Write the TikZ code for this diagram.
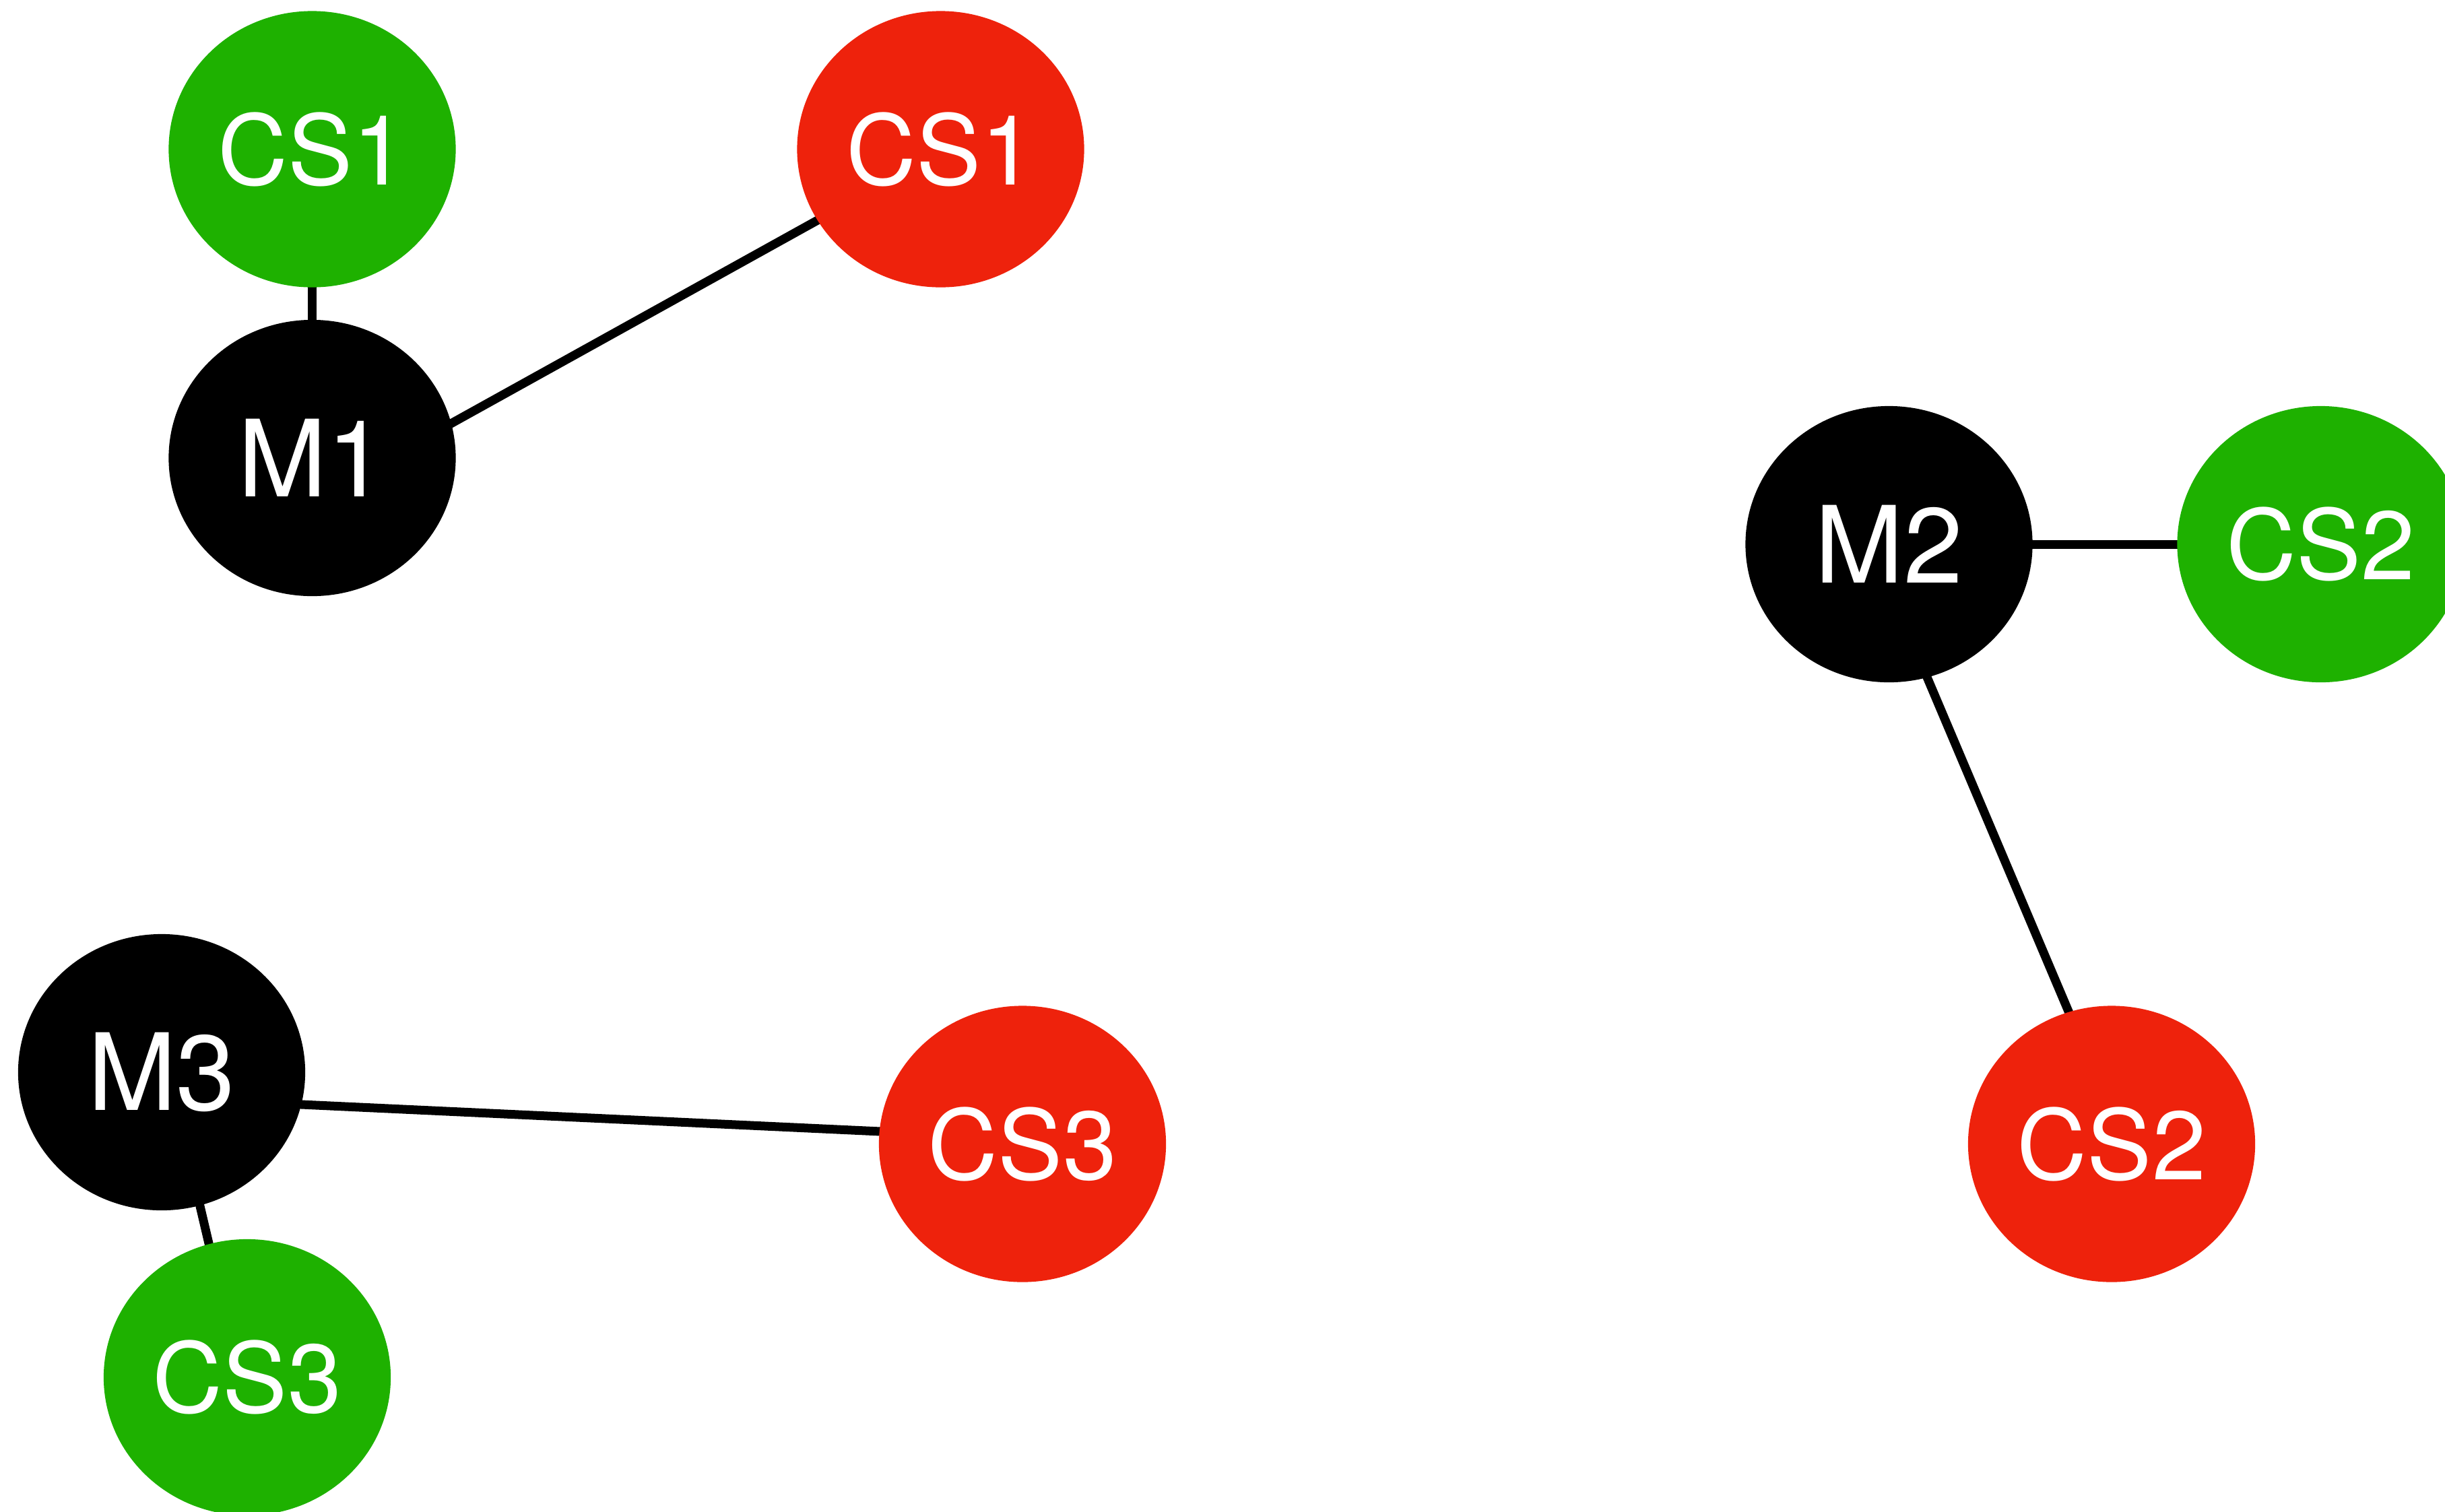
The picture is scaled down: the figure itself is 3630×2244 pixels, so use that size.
\documentclass[tikz,border=0pt]{standalone}
\usepackage{fontspec}
\setmainfont{TeX Gyre Heros}
\usetikzlibrary{shapes.geometric,backgrounds}
\definecolor{kgreen}{HTML}{1EB100}
\definecolor{kred}{HTML}{EE220C}
\begin{document}
\begin{tikzpicture}[x=0.01cm,y=-0.01cm,
  ball/.style={ellipse, minimum width=4.26cm, minimum height=4.10cm, inner sep=0pt, text=white},
  csball/.style={ball, font=\fontsize{41}{41}\selectfont},
  mball/.style={ball, fill=black, font=\fontsize{45}{45}\selectfont},
  greenball/.style={csball, fill=kgreen},
  redball/.style={csball, fill=kred},
  link/.style={line width=0.13cm, black, shorten <=-0.12cm, shorten >=-0.12cm}]
\useasboundingbox (0,0) rectangle (3630,2244);
\clip (0,0) rectangle (3630,2244);
\node[greenball] (cs1g) at (463.5,221.5) {CS1};
\node[redball]   (cs1r) at (1396.5,221.5) {CS1};
\node[mball]     (m1)   at (463.5,680) {M1};
\node[mball]     (m2)   at (2804.5,808) {M2};
\node[greenball] (cs2g) at (3445.5,808) {CS2};
\node[mball]     (m3)   at (240,1592) {M3};
\node[redball]   (cs3r) at (1518,1698.5) {CS3};
\node[redball]   (cs2r) at (3135,1698.5) {CS2};
\node[greenball] (cs3g) at (367,2045) {CS3};
\begin{pgfonlayer}{background}
\draw[link] (cs1g.south) -- (m1.north);
\draw[link] (m1.14.3) -- (cs1r.210.4);
\draw[link] (m2.east) -- (cs2g.west);
\draw[link] (m2.286.4) -- (cs2r.108.3);
\draw[link] (m3.347.5) -- (cs3r.175.5);
\draw[link] (m3.286.1) -- (cs3g.106.4);
\end{pgfonlayer}
\end{tikzpicture}
\end{document}
